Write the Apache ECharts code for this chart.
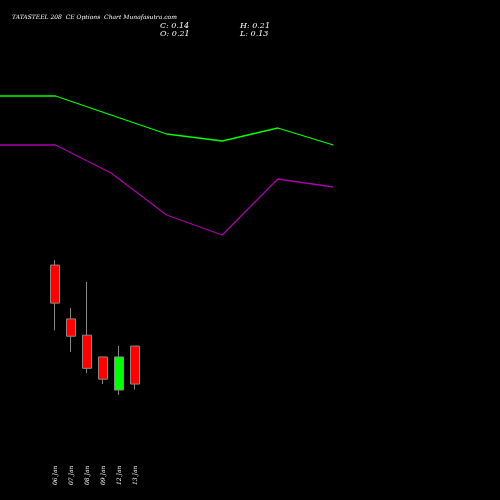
<!DOCTYPE html>
<html>
<head>
<meta charset="utf-8">
<script src="https://cdn.jsdelivr.net/npm/echarts@6/dist/echarts.min.js"></script>
<style>html,body{margin:0;background:#000}#chart{width:500px;height:500px}</style>
</head>
<body>
<div id="chart"></div>
<script>
// candle data: [open, close, low, high]
const dates = ['06 Jan', '07 Jan', '08 Jan', '09 Jan', '12 Jan', '13 Jan'];
const candles = [
  [0.359, 0.289, 0.239, 0.368],
  [0.26, 0.228, 0.199, 0.28],
  [0.23, 0.169, 0.16, 0.328],
  [0.19, 0.149, 0.14, 0.19],
  [0.129, 0.19, 0.12, 0.21],
  [0.21, 0.14, 0.13, 0.21]
];
// indicator lines (screen-scale values)
const lineX = [0, 1, 2, 3, 4, 5, 6];
const greenLine = [96, 96, 115, 134, 141, 128, 145];
const purpleLine = [145, 145, 173, 215, 235, 179, 187];

let chart = echarts.init(document.getElementById('chart'));
const f = 'DejaVu Serif';
chart.setOption({
  backgroundColor: '#000',
  animation: false,
  graphic: [
    { type: 'text', left: 12, top: 14, style: { text: 'TATASTEEL 208  CE Options  Chart Munafasutra.com', fill: '#fff', font: 'italic 6px ' + f } },
    { type: 'text', left: 160, top: 22, style: { text: 'C: 0.14', fill: '#fff', font: 'italic 8px ' + f } },
    { type: 'text', left: 160, top: 30, style: { text: 'O: 0.21', fill: '#fff', font: 'italic 8px ' + f } },
    { type: 'text', left: 240, top: 22, style: { text: 'H: 0.21', fill: '#fff', font: 'italic 8px ' + f } },
    { type: 'text', left: 240, top: 30, style: { text: 'L: 0.13', fill: '#fff', font: 'italic 8px ' + f } }
  ],
  grid: [
    { left: 47, width: 96, top: 0, height: 490 },
    { left: 0, right: 0, top: 0, bottom: 0 }
  ],
  xAxis: [
    { type: 'category', data: dates, gridIndex: 0, axisLine: { show: false }, axisTick: { show: false },
      axisLabel: { inside: true, rotate: 90, margin: 5, color: '#fff', fontSize: 6, fontStyle: 'italic', fontFamily: f } },
    { type: 'value', gridIndex: 1, min: 0, max: 9, show: false }
  ],
  yAxis: [
    { type: 'value', gridIndex: 0, min: -0.055, max: 0.847, show: false },
    { type: 'value', gridIndex: 1, min: 0, max: 500, inverse: true, show: false }
  ],
  series: [
    { type: 'candlestick', xAxisIndex: 0, yAxisIndex: 0, data: candles, barWidth: 10,
      itemStyle: { color: '#00ff00', color0: '#ff0000', borderColor: '#888', borderColor0: '#888', borderWidth: 1 } },
    { type: 'line', xAxisIndex: 1, yAxisIndex: 1, data: lineX.map((x, i) => [x, greenLine[i]]), symbol: 'none', lineStyle: { color: '#00ff00', width: 1.3 } },
    { type: 'line', xAxisIndex: 1, yAxisIndex: 1, data: lineX.map((x, i) => [x, purpleLine[i]]), symbol: 'none', lineStyle: { color: '#aa00aa', width: 1.3 } }
  ]
});
</script>
</body>
</html>
